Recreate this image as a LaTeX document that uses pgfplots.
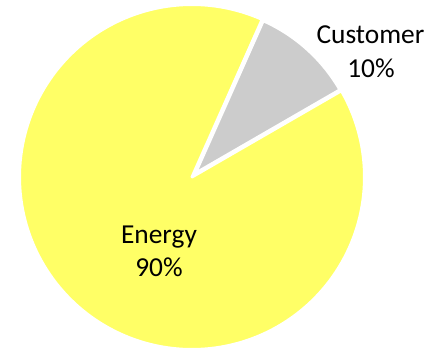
\documentclass[border=0pt]{standalone}
\usepackage{fontspec}
\setmainfont{Carlito}
\usepackage{pgfplots}
\usepackage{pgfplotstable}
\pgfplotsset{compat=1.18}
\definecolor{energy}{HTML}{FFFF66}
\definecolor{customer}{HTML}{CCCCCC}
\pgfplotstableread{
label value
Customer 10
Energy 90
}\piedata
\begin{document}
\begin{tikzpicture}
\pgfplotstablegetelem{0}{value}\of\piedata \let\vC\pgfplotsretval
\pgfplotstablegetelem{1}{value}\of\piedata \let\vE\pgfplotsretval
\pgfmathsetmacro{\aS}{30}
\pgfmathsetmacro{\aM}{\aS+3.6*\vC}
\pgfmathsetmacro{\aE}{\aM+3.6*\vE}
\pgfmathsetmacro{\aMid}{(\aS+\aM)/2}
\pgfmathsetmacro{\gx}{192+5*cos(\aMid)}
\pgfmathsetmacro{\gy}{172+5*sin(\aMid)}
\begin{axis}[hide axis, scale only axis, width=440bp, height=349bp,
  xmin=0, xmax=440, ymin=0, ymax=349, clip=false]
\coordinate (bl) at (rel axis cs:0,0);
\coordinate (tr) at (rel axis cs:1,1);
\addplot[fill=energy, draw=white, line width=3bp, line join=round, domain=\aM:\aE, samples=180, variable=\t]
  ({192+172.5*cos(\t)},{172+172.5*sin(\t)}) -- (axis cs:192,172) -- cycle;
\addplot[fill=customer, draw=white, line width=3bp, line join=round, domain=\aS:\aM, samples=40, variable=\t]
  ({\gx+167*cos(\t)},{\gy+167*sin(\t)}) -- (axis cs:\gx,\gy) -- cycle;
\node[anchor=base, font=\fontsize{27.5}{34}\selectfont] at (axis cs:370.5,305.7) {Customer};
\node[anchor=base, font=\fontsize{27.5}{34}\selectfont] at (axis cs:371,271.7) {\vC\%};
\node[anchor=base, font=\fontsize{27.5}{34}\selectfont] at (axis cs:159,105.7) {Energy};
\node[anchor=base, font=\fontsize{27.5}{34}\selectfont] at (axis cs:159,72.3) {\vE\%};
\end{axis}
\pgfresetboundingbox
\path (bl) rectangle (tr);
\end{tikzpicture}
\end{document}
